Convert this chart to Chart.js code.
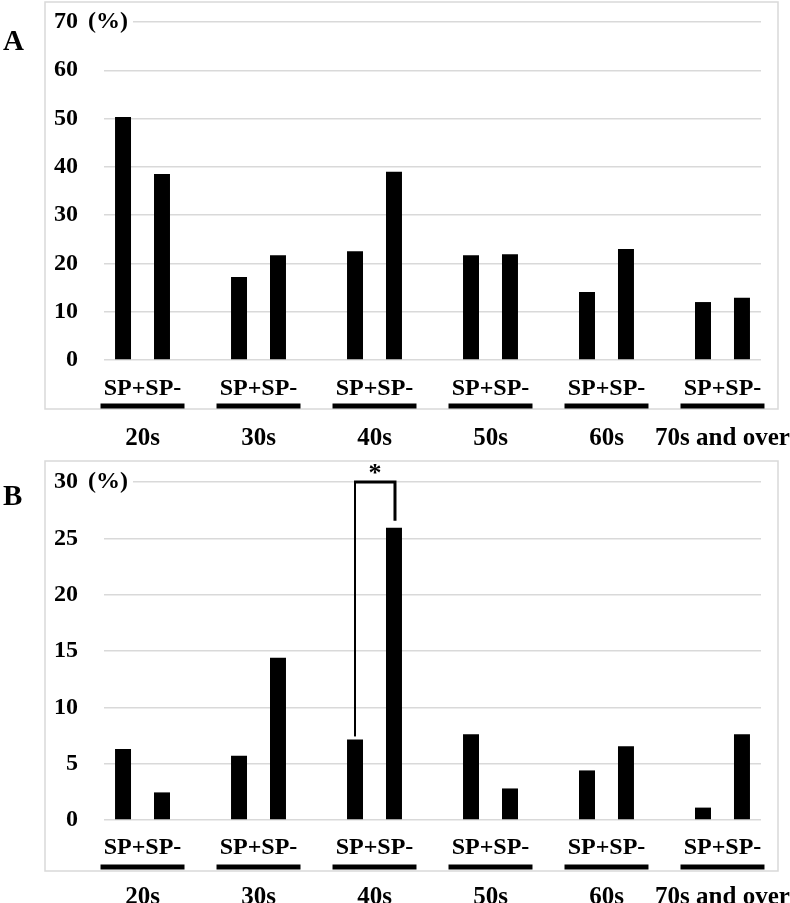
<!DOCTYPE html>
<html>
<head>
<meta charset="utf-8">
<script src="https://cdn.jsdelivr.net/npm/chart.js@4.4.0/dist/chart.umd.min.js"></script>
<style>
  html, body { margin: 0; padding: 0; background: #fff; }
  #wrap { position: relative; width: 790px; height: 903px; overflow: hidden; }
  canvas { position: absolute; left: 0; }
  #chartA { top: 0; }
  #chartB { top: 450px; }
</style>
</head>
<body>
<div id="wrap">
  <canvas id="chartA" width="790" height="450"></canvas>
  <canvas id="chartB" width="790" height="453"></canvas>
</div>
<script>
// age groups (x axis) and the sub label under every pair of bars
var ageGroups = ['20s', '30s', '40s', '50s', '60s', '70s and over'];
var pairLabel = 'SP+SP-';

// panel A (%)
var spPlusA  = [50.3, 17.2, 22.5, 21.7, 14.1, 12.0];
var spMinusA = [38.5, 21.7, 39.0, 21.9, 23.0, 12.9];
var yMaxA = 70, yStepA = 10;

// panel B (%)
var spPlusB  = [6.3, 5.7, 7.15, 7.6, 4.4, 1.1];
var spMinusB = [2.45, 14.4, 25.95, 2.8, 6.55, 7.6];
var yMaxB = 30, yStepB = 5;

// significant pair in panel B (index of age group)
var sigGroupB = 2;

var serif = '"Liberation Serif", "Times New Roman", serif';

function toPoints(arr) {
    return arr.map(function(v, i) { return { x: i, y: v }; });
}

// frame, sub labels, underlines, (%), panel letter, bracket
var panelDeco = {
    id: 'panelDeco',
    beforeDraw: function(chart, args, opts) {
        var ca = chart.chartArea;
        var ctx = chart.ctx;
        ctx.save();
        ctx.strokeStyle = '#d9d9d9';
        ctx.lineWidth = 1.5;
        ctx.strokeRect(ca.left - 59, ca.top - opts.frameTop, (ca.right + 17) - (ca.left - 59), (ca.bottom + opts.frameBottom) - (ca.top - opts.frameTop));
        ctx.restore();
    },
    afterDraw: function(chart, args, opts) {
        var ca = chart.chartArea;
        var ctx = chart.ctx;
        var xs = chart.scales.x;
        var ys = chart.scales.y;
        ctx.save();

        // SP+SP- and black underline for each group
        ctx.fillStyle = '#000';
        ctx.font = 'bold 24px ' + serif;
        ctx.textAlign = 'center';
        ctx.textBaseline = 'middle';
        for (var i = 0; i < ageGroups.length; i++) {
            var cx = xs.getPixelForValue(i);
            ctx.fillText(pairLabel, cx, ca.bottom + opts.subOffset);
            var x0 = xs.getPixelForValue(i - 0.362);
            var x1 = xs.getPixelForValue(i + 0.362);
            ctx.fillRect(x0, ca.bottom + opts.lineOffset - 2.5, x1 - x0, 5);
        }

        // (%) next to the top tick
        var yTop = ys.getPixelForValue(ys.max);
        ctx.font = 'bold 24px ' + serif;
        ctx.textAlign = 'left';
        var w = ctx.measureText('(%)').width;
        ctx.fillStyle = '#fff';
        ctx.fillRect(ca.left - 17, yTop - 6, w + 6, 12);
        ctx.fillStyle = '#000';
        ctx.fillText('(%)', ca.left - 16, yTop);

        // panel letter
        ctx.font = 'bold 29px ' + serif;
        ctx.textBaseline = 'alphabetic';
        ctx.fillText(opts.letter, 3, opts.letterY);

        // significance bracket
        if (opts.sig !== null && opts.sig !== undefined) {
            var b0 = chart.getDatasetMeta(0).data[opts.sig];
            var b1 = chart.getDatasetMeta(1).data[opts.sig];
            var lx = b0.x, rx = b1.x + 1;
            ctx.strokeStyle = '#000';
            ctx.lineWidth = 2;
            ctx.beginPath();
            ctx.moveTo(lx, b0.y - 3);
            ctx.lineTo(lx, yTop);
            ctx.stroke();
            ctx.lineWidth = 3;
            ctx.beginPath();
            ctx.moveTo(lx - 1, yTop);
            ctx.lineTo(rx + 1.5, yTop);
            ctx.moveTo(rx, yTop);
            ctx.lineTo(rx, b1.y - 7);
            ctx.stroke();
            ctx.font = 'bold 26px ' + serif;
            ctx.textAlign = 'center';
            ctx.fillText('*', (lx + rx) / 2, yTop - 1);
        }
        ctx.restore();
    }
};

function makeChart(id, plus, minus, yMax, yStep, pad, xHeight, xPad, deco) {
    var el = document.getElementById(id).getContext('2d');
    return new Chart(el, {
        type: 'bar',
        data: {
            datasets: [
                { label: 'SP+', data: toPoints(plus), backgroundColor: '#000', borderWidth: 0 },
                { label: 'SP-', data: toPoints(minus), backgroundColor: '#000', borderWidth: 0 }
            ]
        },
        options: {
            responsive: false,
            animation: false,
            categoryPercentage: 0.672,
            barPercentage: 0.41,
            layout: { padding: pad },
            plugins: {
                legend: { display: false },
                tooltip: { enabled: false },
                panelDeco: deco
            },
            scales: {
                x: {
                    type: 'linear',
                    offset: false,
                    min: -0.332,
                    max: 5.332,
                    grid: { display: false, offset: false },
                    border: { display: false },
                    afterBuildTicks: function(scale) {
                        scale.ticks = ageGroups.map(function(g, i) { return { value: i }; });
                    },
                    afterFit: function(scale) {
                        scale.height = xHeight;
                        scale.paddingLeft = 0;
                        scale.paddingRight = 0;
                    },
                    ticks: {
                        autoSkip: false,
                        maxRotation: 0,
                        padding: xPad,
                        color: '#000',
                        font: { family: serif, size: 25, weight: 'bold' },
                        callback: function(v) { return ageGroups[v]; }
                    }
                },
                y: {
                    min: 0,
                    max: yMax,
                    border: { display: false },
                    grid: { color: '#d9d9d9', lineWidth: 1.5, drawTicks: false },
                    afterFit: function(scale) {
                        scale.width = 104;
                        scale.paddingTop = 0;
                        scale.paddingBottom = 0;
                    },
                    ticks: {
                        stepSize: yStep,
                        padding: 26,
                        color: '#000',
                        font: { family: serif, size: 24, weight: 'bold' }
                    }
                }
            }
        },
        plugins: [panelDeco]
    });
}

var chartA = makeChart('chartA', spPlusA, spMinusA, yMaxA, yStepA,
    { top: 22, right: 29, left: 0, bottom: 0 }, 90, 56,
    { letter: 'A', letterY: 50, frameTop: 20, frameBottom: 49, subOffset: 29, lineOffset: 46, sig: null });

var chartB = makeChart('chartB', spPlusB, spMinusB, yMaxB, yStepB,
    { top: 32, right: 29, left: 0, bottom: 0 }, 83, 55,
    { letter: 'B', letterY: 55, frameTop: 21, frameBottom: 51, subOffset: 28, lineOffset: 47, sig: sigGroupB });
</script>
</body>
</html>
